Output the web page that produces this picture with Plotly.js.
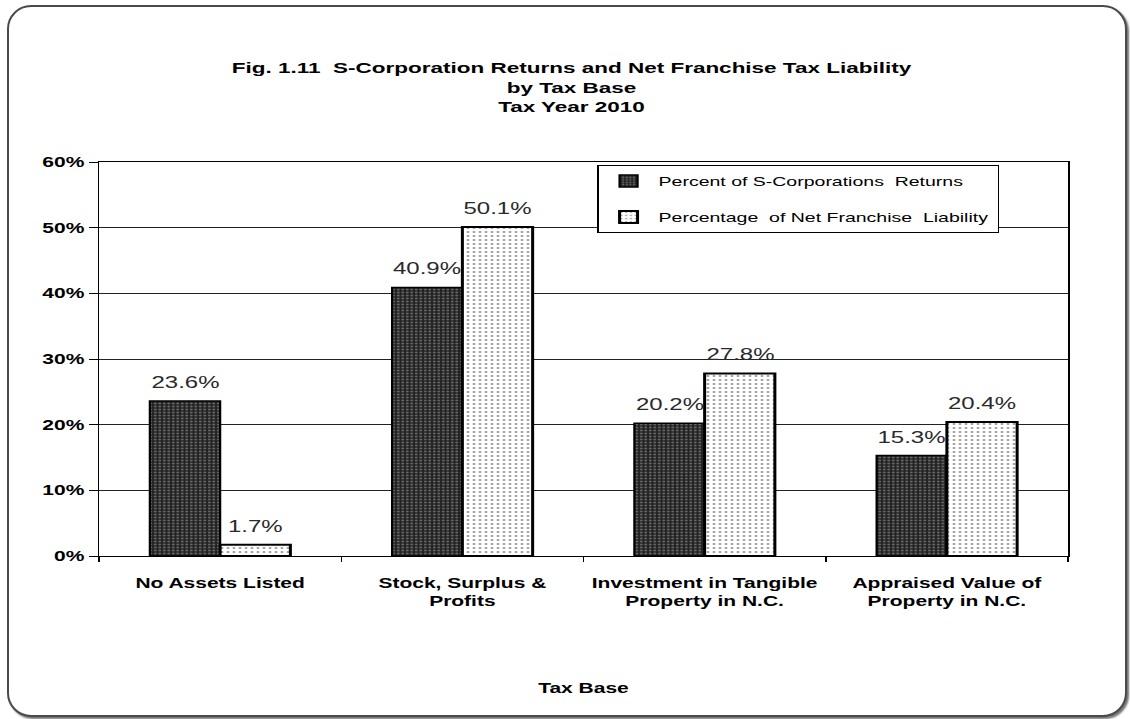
<!DOCTYPE html>
<html>
<head>
<meta charset="utf-8">
<script src="https://cdn.plot.ly/plotly-3.0.1.min.js"></script>
<style>
  html, body { margin: 0; padding: 0; background: #fff; overflow: hidden; }
  #frame {
    position: absolute; left: 7px; top: 5px; width: 1116px; height: 708px;
    border: 2px solid #4a4a4a; border-radius: 24px;
    box-shadow: 2px 2px 2px rgba(0,0,0,0.55);
    background: #fff;
  }
  #chart {
    position: absolute; left: 0; top: 0; width: 753px; height: 719px;
    transform: scaleX(1.5); transform-origin: 0 0;
  }
</style>
</head>
<body>
<div id="frame"></div>
<div id="chart"></div>
<script>
const categories = [
  "No Assets Listed",
  "Stock, Surplus &<br>Profits",
  "Investment in Tangible<br>Property in N.C.",
  "Appraised Value of<br>Property in N.C."
];
const seriesNames = [
  "Percent of S-Corporations  Returns",
  "Percentage  of Net Franchise  Liability"
];
const returnsPct = [23.6, 40.9, 20.2, 15.3];
const liabilityPct = [1.7, 50.1, 27.8, 20.4];
const yTickVals = [0, 10, 20, 30, 40, 50, 60];
const yTickText = ["0%", "10%", "20%", "30%", "40%", "50%", "60%"];

const FONT = "Liberation Sans, Arial, sans-serif";
const labelFont = {family: FONT, size: 16, color: "#2a2a2a"};

const BARGAP = 0.42;
const PLOT_W = 753 - 66 - 41;

const traces = [
  {
    type: "bar", name: seriesNames[0], x: categories, y: returnsPct,
    legendgroup: "a",
    marker: {
      color: "#2a2a2a",
      line: {color: "#000", width: 1.5},
      pattern: {shape: ".", bgcolor: "#222", fgcolor: "#aaa", size: 3, solidity: 0.35, fillmode: "overlay"}
    },
    hoverinfo: "skip"
  },
  {
    type: "bar", name: seriesNames[1], x: categories, y: liabilityPct,
    legendgroup: "b",
    marker: {
      color: "#fff",
      line: {color: "#000", width: 2},
      pattern: {shape: ".", bgcolor: "#fff", fgcolor: "#333", size: 4, solidity: 0.2, fillmode: "overlay"}
    },
    hoverinfo: "skip"
  }
];

// value labels above each bar, placed at the bar's data value
const barHalf = (PLOT_W / categories.length) * (1 - BARGAP) / 4;
const annotations = [];
[returnsPct, liabilityPct].forEach((vals, si) => {
  vals.forEach((v, ci) => {
    annotations.push({
      x: categories[ci], y: v, xref: "x", yref: "y",
      text: v.toFixed(1) + "%", showarrow: false,
      yanchor: "bottom", yshift: 8,
      xshift: (si === 0 ? -1 : 1) * barHalf,
      font: labelFont
    });
  });
});

const layout = {
  width: 753, height: 719,
  margin: {l: 66, r: 41, t: 162, b: 163},
  paper_bgcolor: "rgba(0,0,0,0)",
  plot_bgcolor: "#fff",
  font: {family: FONT, color: "#000"},
  title: {
    text: "<b>Fig. 1.11  S-Corporation Returns and Net Franchise Tax Liability<br>by Tax Base<br>Tax Year 2010</b>",
    font: {size: 15, family: FONT, color: "#000"},
    x: 0.506, xref: "container", xanchor: "center",
    y: 0.898, yref: "container", yanchor: "top"
  },
  barmode: "group",
  bargap: BARGAP,
  bargroupgap: 0,
  showlegend: true,
  legend: {
    x: 0.514, xanchor: "left", y: 0.992, yanchor: "top",
    bgcolor: "#fff", bordercolor: "#000", borderwidth: 1,
    font: {size: 13, family: FONT, color: "#000"},
    traceorder: "grouped", tracegroupgap: 16,
    itemwidth: 30
  },
  annotations: annotations,
  xaxis: {
    type: "category",
    tickson: "boundaries",
    ticks: "outside", ticklen: 5, tickcolor: "#000",
    ticklabelstandoff: 14,
    showline: true, linecolor: "#000", linewidth: 1, mirror: true,
    tickfont: {size: 14, family: FONT, color: "#000", weight: "bold"},
    title: {text: "<b>Tax Base</b>", font: {size: 14, family: FONT, color: "#000"}, standoff: 75},
    fixedrange: true
  },
  yaxis: {
    range: [0, 60],
    tickvals: yTickVals, ticktext: yTickText,
    ticks: "outside", ticklen: 6, tickcolor: "#000",
    showline: true, linecolor: "#000", linewidth: 1, mirror: true,
    showgrid: true, gridcolor: "#222", gridwidth: 1,
    zeroline: false,
    tickfont: {size: 14, family: FONT, color: "#000", weight: "bold"},
    fixedrange: true
  }
};

Plotly.newPlot("chart", traces, layout, {displayModeBar: false, staticPlot: true});
</script>
</body>
</html>
